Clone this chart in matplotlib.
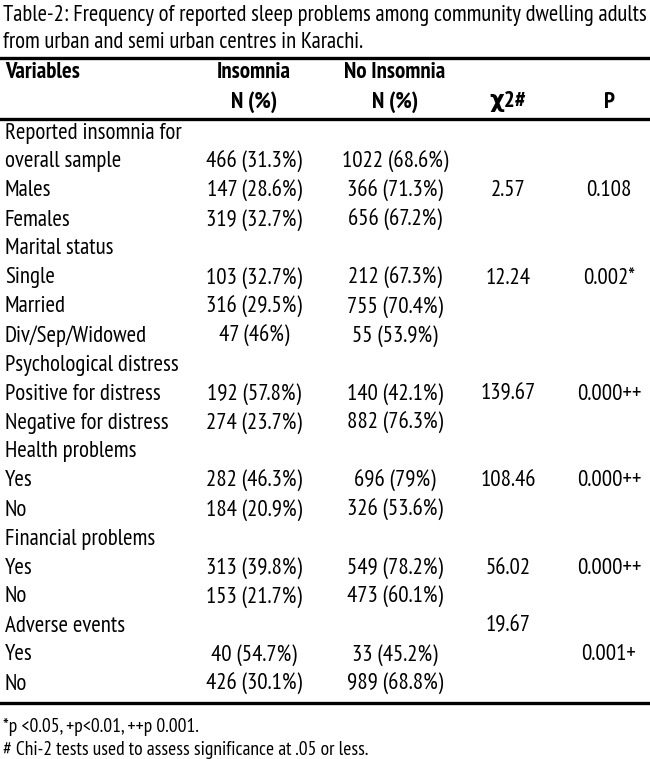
import matplotlib
matplotlib.use("Agg")
import matplotlib.pyplot as plt
from matplotlib import font_manager

# table contents
title = ["Table-2: Frequency of reported sleep problems among community dwelling adults",
         "from urban and semi urban centres in Karachi."]
header1 = ["Variables", "Insomnia", "No Insomnia", "", ""]
header2 = ["", "N (%)", "N (%)", "\u03c72#", "P"]

variables = ["Reported insomnia for", "overall sample", "Males", "Females",
             "Marital status", "Single", "Married", "Div/Sep/Widowed",
             "Psychological distress", "Positive for distress", "Negative for distress",
             "Health problems", "Yes", "No",
             "Financial problems", "Yes", "No",
             "Adverse events", "Yes", "No"]
insomnia = ["", "466 (31.3%)", "147 (28.6%)", "319 (32.7%)",
            "", "103 (32.7%)", "316 (29.5%)", "47 (46%)",
            "", "192 (57.8%)", "274 (23.7%)",
            "", "282 (46.3%)", "184 (20.9%)",
            "", "313 (39.8%)", "153 (21.7%)",
            "", "40 (54.7%)", "426 (30.1%)"]
no_insomnia = ["", "1022 (68.6%)", "366 (71.3%)", "656 (67.2%)",
               "", "212 (67.3%)", "755 (70.4%)", "55 (53.9%)",
               "", "140 (42.1%)", "882 (76.3%)",
               "", "696 (79%)", "326 (53.6%)",
               "", "549 (78.2%)", "473 (60.1%)",
               "", "33 (45.2%)", "989 (68.8%)"]
chi2 = ["", "", "2.57", "", "", "12.24", "", "", "", "139.67", "", "", "108.46", "",
        "", "56.02", "", "19.67", "", ""]
p_vals = ["", "", "0.108", "", "", "0.002*", "", "", "", "0.000++", "", "", "0.000++", "",
          "", "0.000++", "", "", "0.001+", ""]
footnotes = ["*p <0.05, +p<0.01, ++p 0.001.",
             "# Chi-2 tests used to assess significance at .05 or less."]

# narrow font like the journal's, if available
names = {f.name for f in font_manager.fontManager.ttflist}
fam = ["Liberation Sans", "DejaVu Sans"]
for cand in ["PT Sans Narrow", "Open Sans Condensed", "Roboto Condensed", "Liberation Sans Narrow"]:
    if cand in names:
        fam = [cand, "DejaVu Sans"]
        break
narrow = fam[0] != "Liberation Sans"
plt.rcParams['font.family'] = fam

fig = plt.figure(figsize=(6.5, 7.59), dpi=100)
ax = fig.add_axes([0, 0, 1, 1])
ax.set_xlim(0, 650)
ax.set_ylim(759, 0)
ax.axis("off")

fs = 16.5 if narrow else 12.5
fs_title = 16.3 if narrow else 12.5
fs_note = 14 if narrow else 10.5
col_x = [5, 254, 395, 508, 609]

ax.text(3, 16, title[0], fontsize=fs_title, va="center", ha="left")
ax.text(3, 43, title[1], fontsize=fs_title, va="center", ha="left")
ax.plot([0, 650], [58, 58], color="black", lw=2.4)

for i, (h1, h2) in enumerate(zip(header1, header2)):
    ha = "left" if i == 0 else "center"
    if h1:
        ax.text(col_x[i], 72, h1, fontsize=fs, fontweight="bold", va="center", ha=ha)
    if h2:
        ax.text(col_x[i], 102, h2, fontsize=fs, fontweight="bold", va="center", ha=ha)
ax.plot([0, 650], [119, 119], color="black", lw=2.4)

y0, step = 133, 29.0
for r in range(len(variables)):
    y = y0 + r * step
    ax.text(col_x[0], y, variables[r], fontsize=fs, va="center", ha="left")
    for c, col in enumerate([insomnia, no_insomnia, chi2, p_vals], start=1):
        if col[r]:
            ax.text(col_x[c], y, col[r], fontsize=fs, va="center", ha="center")

ax.plot([0, 650], [703, 703], color="black", lw=2.4)
ax.text(3, 727, footnotes[0], fontsize=fs_note, va="center", ha="left")
ax.text(3, 750, footnotes[1], fontsize=fs_note, va="center", ha="left")

fig.savefig("out.png", dpi=100)
